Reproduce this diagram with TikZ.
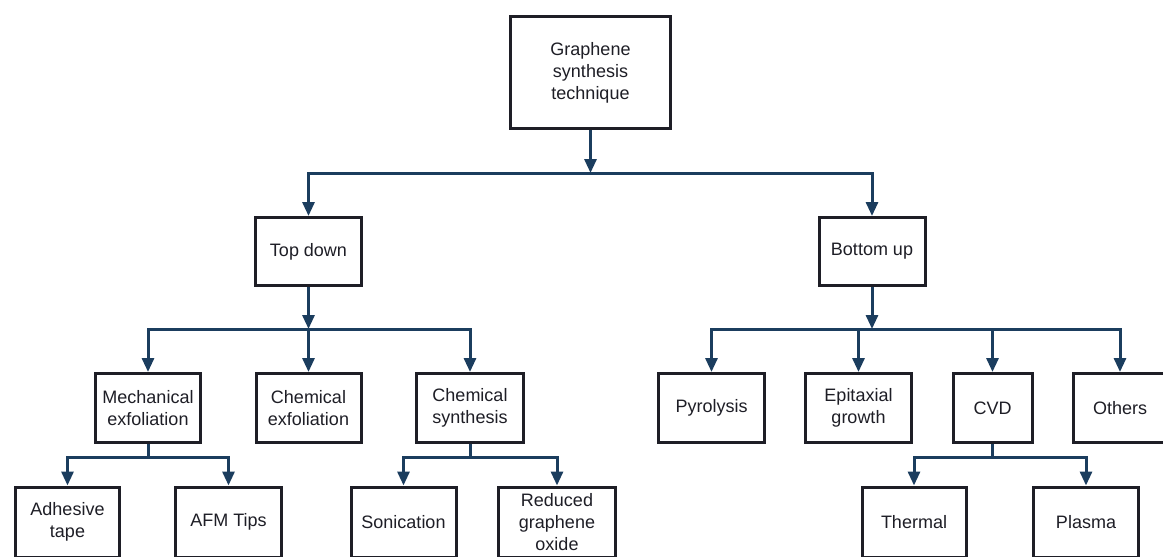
\documentclass[tikz,border=0pt]{standalone}
\usepackage{fontspec}
\setmainfont{Liberation Sans}
\usetikzlibrary{arrows.meta}
\definecolor{wire}{HTML}{1B3D5E}
\definecolor{frame}{HTML}{1E1E26}
\begin{document}
\begin{tikzpicture}[x=1pt,y=-1pt,
  box/.style={draw=frame, line width=3pt, fill=white, align=center,
    inner sep=0pt, text=frame, font=\fontsize{18}{22}\selectfont},
  wirel/.style={draw=wire, line width=3pt},
  arr/.style={wirel, -{Triangle[length=14pt,width=12pt]}},
]
\useasboundingbox (0,0) rectangle (1163,557);
\fill[white] (0,0) rectangle (1163,557);
\clip (0,0) rectangle (1163,557);

% root
\node[box, minimum width=160pt, minimum height=112pt] (root) at (590.5,72.5)
  {Graphene\\synthesis\\technique};

% first split
\node[box, minimum width=106pt, minimum height=68pt] (td) at (308.5,251.5) {Top down};
\node[box, minimum width=106pt, minimum height=68pt] (bu) at (872,251.5) {Bottom up};

% top-down methods
\node[box, minimum width=105pt, minimum height=69pt] (me) at (148,408) {Mechanical\\exfoliation};
\node[box, minimum width=105pt, minimum height=69pt] (ce) at (308.5,408) {Chemical\\exfoliation};
\node[box, minimum width=107pt, minimum height=69pt] (cs) at (470,408) {Chemical\\synthesis};

% bottom-up methods
\node[box, minimum width=106pt, minimum height=69pt] (py) at (711.5,408) {Pyrolysis};
\node[box, minimum width=106pt, minimum height=69pt] (ep) at (858.5,408) {Epitaxial\\growth};
\node[box, minimum width=79pt, minimum height=69pt] (cvd) at (992.5,408) {CVD};
\node[box, minimum width=94pt, minimum height=69pt] (oth) at (1120,408) {Others};

% leaves
\node[box, minimum width=104pt, minimum height=70pt] (ad) at (67.5,522) {Adhesive\\tape};
\node[box, minimum width=106pt, minimum height=70pt] (afm) at (228.5,522) {AFM Tips};
\node[box, minimum width=105pt, minimum height=70pt] (son) at (403.5,522) {Sonication};
\node[box, minimum width=117pt, minimum height=70pt] (rgo) at (557,522) {Reduced\\graphene\\oxide};
\node[box, minimum width=104pt, minimum height=70pt] (th) at (914,522) {Thermal};
\node[box, minimum width=105pt, minimum height=70pt] (pl) at (1086,522) {Plasma};

% junction points on the bus lines
\coordinate (b0) at (590.5,173);
\coordinate (b1) at (308.5,329);
\coordinate (b2) at (872,329);
\coordinate (b3) at (148,457);
\coordinate (b4) at (470,457);
\coordinate (b5) at (992.5,457);

% root -> top down / bottom up
\draw[arr] (root.south) -- (b0);
\draw[arr] (b0) -| (td.north);
\draw[arr] (b0) -| (bu.north);

% top down -> methods
\draw[arr] (td.south) -- (b1);
\draw[arr] (b1) -| (me.north);
\draw[arr] (b1) -- (ce.north);
\draw[arr] (b1) -| (cs.north);

% bottom up -> methods
\draw[arr] (bu.south) -- (b2);
\draw[arr] (b2) -| (py.north);
\draw[arr] (b2) -| (ep.north);
\draw[arr] (b2) -| (cvd.north);
\draw[arr] (b2) -| (oth.north);

% methods -> variants
\draw[wirel] (me.south) -- (b3);
\draw[arr] (b3) -| (ad.north);
\draw[arr] (b3) -| (afm.north);

\draw[wirel] (cs.south) -- (b4);
\draw[arr] (b4) -| (son.north);
\draw[arr] (b4) -| (rgo.north);

\draw[wirel] (cvd.south) -- (b5);
\draw[arr] (b5) -| (th.north);
\draw[arr] (b5) -| (pl.north);
\end{tikzpicture}
\end{document}
